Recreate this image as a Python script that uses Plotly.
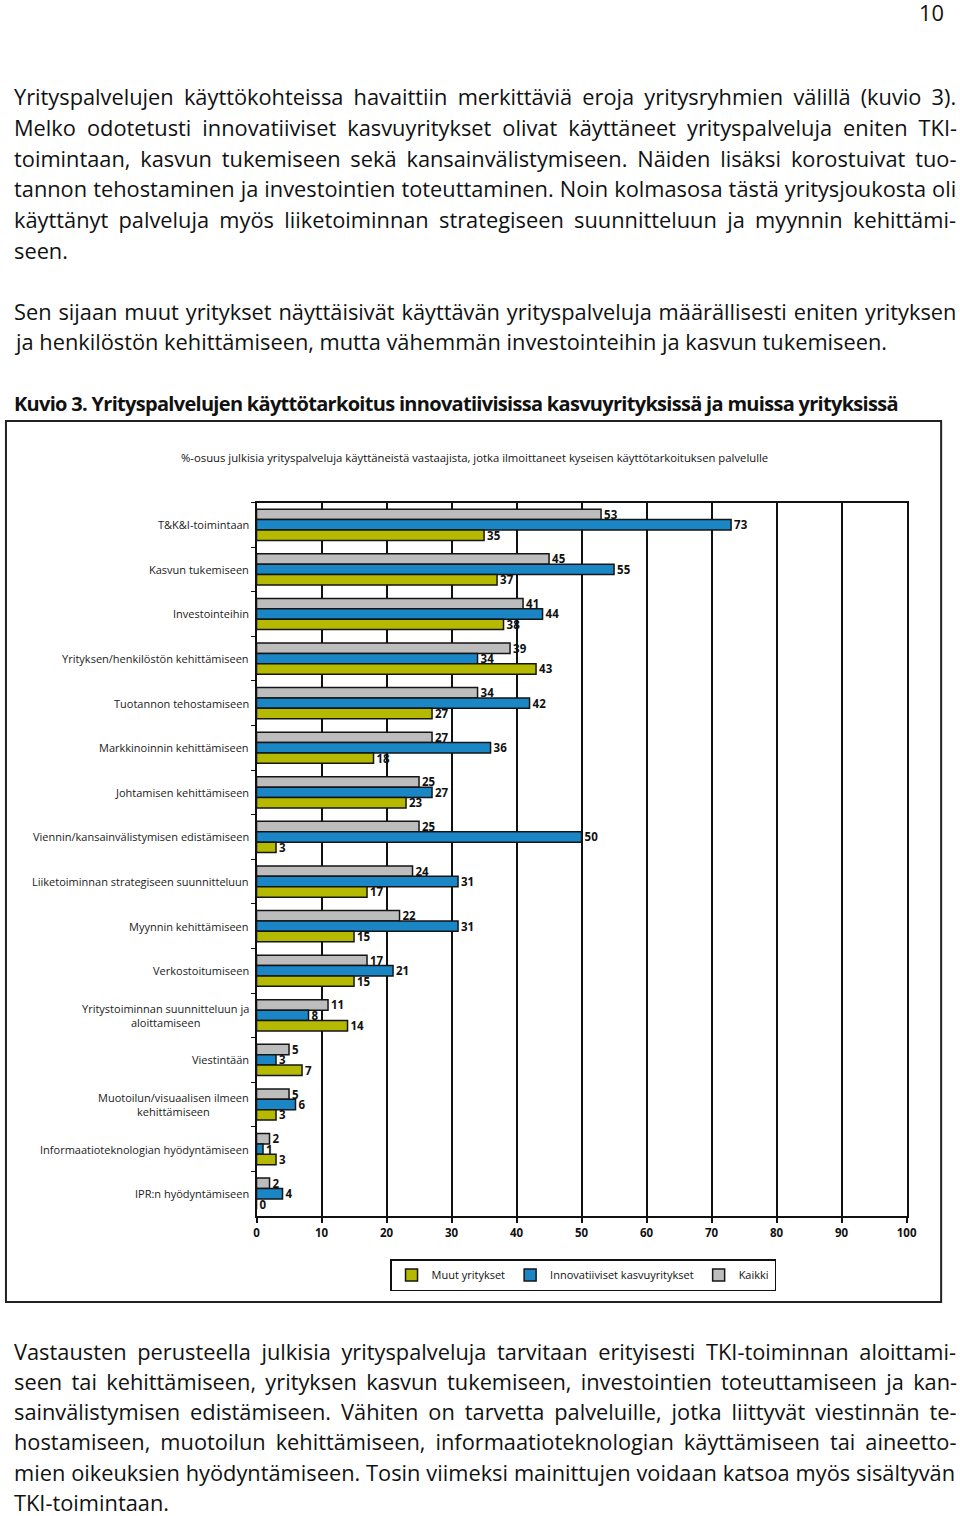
import plotly.graph_objects as go

W, H = 960, 1516

# ---------------- data ----------------
categories = [
    "T&K&I-toimintaan",
    "Kasvun tukemiseen",
    "Investointeihin",
    "Yrityksen/henkilöstön kehittämiseen",
    "Tuotannon tehostamiseen",
    "Markkinoinnin kehittämiseen",
    "Johtamisen kehittämiseen",
    "Viennin/kansainvälistymisen edistämiseen",
    "Liiketoiminnan strategiseen suunnitteluun",
    "Myynnin kehittämiseen",
    "Verkostoitumiseen",
    "Yritystoiminnan suunnitteluun ja<br>aloittamiseen",
    "Viestintään",
    "Muotoilun/visuaalisen ilmeen<br>kehittämiseen",
    "Informaatioteknologian hyödyntämiseen",
    "IPR:n hyödyntämiseen",
]
kaikki = [53, 45, 41, 39, 34, 27, 25, 25, 24, 22, 17, 11, 5, 5, 2, 2]
innovatiiviset = [73, 55, 44, 34, 42, 36, 27, 50, 31, 31, 21, 8, 3, 6, 1, 4]
muut = [35, 37, 38, 43, 27, 18, 23, 3, 17, 15, 15, 14, 7, 3, 3, 0]
series_names = ["Kaikki", "Innovatiiviset kasvuyritykset", "Muut yritykset"]
x_ticks = [0, 10, 20, 30, 40, 50, 60, 70, 80, 90, 100]

page_number = "10"
chart_subtitle = ("%-osuus julkisia yrityspalveluja käyttäneistä vastaajista, jotka "
                  "ilmoittaneet kyseisen käyttötarkoituksen palvelulle")
figure_caption = ("Kuvio 3. Yrityspalvelujen käyttötarkoitus innovatiivisissa "
                  "kasvuyrityksissä ja muissa yrityksissä")
paragraph1 = [
    "Yrityspalvelujen käyttökohteissa havaittiin merkittäviä eroja yritysryhmien välillä (kuvio 3).",
    "Melko odotetusti innovatiiviset kasvuyritykset olivat käyttäneet yrityspalveluja eniten TKI-",
    "toimintaan, kasvun tukemiseen sekä kansainvälistymiseen. Näiden lisäksi korostuivat tuo-",
    "tannon tehostaminen ja investointien toteuttaminen. Noin kolmasosa tästä yritysjoukosta oli",
    "käyttänyt palveluja myös liiketoiminnan strategiseen suunnitteluun ja myynnin kehittämi-",
    "seen.",
]
paragraph2 = [
    "Sen sijaan muut yritykset näyttäisivät käyttävän yrityspalveluja määrällisesti eniten yrityksen",
    "ja henkilöstön kehittämiseen, mutta vähemmän investointeihin ja kasvun tukemiseen.",
]
paragraph3 = [
    "Vastausten perusteella julkisia yrityspalveluja tarvitaan erityisesti TKI-toiminnan aloittami-",
    "seen tai kehittämiseen, yrityksen kasvun tukemiseen, investointien toteuttamiseen ja kan-",
    "sainvälistymisen edistämiseen. Vähiten on tarvetta palveluille, jotka liittyvät viestinnän te-",
    "hostamiseen, muotoilun kehittämiseen, informaatioteknologian käyttämiseen tai aineetto-",
    "mien oikeuksien hyödyntämiseen. Tosin viimeksi mainittujen voidaan katsoa myös sisältyvän",
    "TKI-toimintaan.",
]

# ---------------- styling helpers ----------------
FONT = "Open Sans, Noto Sans, sans-serif"
INK = "#111111"


def px(x):
    return x / W


def py(y):
    return 1 - y / H


# approximate Open Sans Regular advance widths (em)
_w = {" ": 0.26, ".": 0.266, ",": 0.244, "-": 0.322, "(": 0.291, ")": 0.291, "3": 0.572,
      "a": 0.556, "b": 0.613, "c": 0.476, "d": 0.613, "e": 0.561, "f": 0.339, "g": 0.548,
      "h": 0.614, "i": 0.253, "j": 0.253, "k": 0.525, "l": 0.253, "m": 0.930, "n": 0.614,
      "o": 0.604, "p": 0.613, "q": 0.613, "r": 0.408, "s": 0.477, "t": 0.353, "u": 0.614,
      "v": 0.501, "w": 0.778, "x": 0.524, "y": 0.502, "z": 0.477, "ä": 0.556, "ö": 0.604,
      "K": 0.602, "M": 0.856, "N": 0.740, "S": 0.549, "T": 0.560, "V": 0.592, "Y": 0.557,
      "I": 0.303, "J": 0.248}


def em_width(s):
    return sum(_w.get(c, 0.55) for c in s)


# rendered width of the first body line is ~41.6 em in the browser's Open Sans
CAL = 41.6 / em_width(paragraph1[0])

annotations = []
BODY_SIZE = 21.8
LEFT, RIGHT = 9, 955


def add_paragraph(lines, y0, step):
    for i, line in enumerate(lines):
        last = i == len(lines) - 1
        txt = line
        if not last:
            nat = em_width(line) * CAL * BODY_SIZE
            gaps = line.count(" ")
            ws = (RIGHT - LEFT - 3 - nat) / gaps if gaps else 0
            txt = "<span style='word-spacing:%.2fpx'>%s</span>" % (ws, line)
        annotations.append(dict(
            text=txt, x=px(LEFT), y=py(y0 + i * step - 2), xref="paper", yref="paper",
            xanchor="left", yanchor="middle", showarrow=False,
            font=dict(family=FONT, size=BODY_SIZE, color=INK)))


add_paragraph(paragraph1, 99, 30.6)
add_paragraph(paragraph2, 313, 30.6)
add_paragraph(paragraph3, 1353, 30.3)

annotations.append(dict(
    text=page_number, x=px(956), y=py(12), xref="paper", yref="paper",
    xanchor="right", yanchor="middle", showarrow=False,
    font=dict(family=FONT, size=BODY_SIZE, color=INK)))

annotations.append(dict(
    text="<span style='letter-spacing:-0.7px'>%s</span>" % figure_caption,
    x=px(LEFT), y=py(403), xref="paper", yref="paper",
    xanchor="left", yanchor="middle", showarrow=False,
    font=dict(family=FONT, size=20, color=INK, weight="bold")))

annotations.append(dict(
    text=chart_subtitle, x=px(478), y=py(457), xref="paper", yref="paper",
    xanchor="center", yanchor="middle", showarrow=False,
    font=dict(family=FONT, size=11.3, color=INK)))

for cat in categories:
    annotations.append(dict(
        text=cat, x=px(251), y=cat, xref="paper", yref="y",
        xanchor="right", yanchor="middle", align="center", showarrow=False,
        font=dict(family=FONT, size=11, color="#1a1a1a")))

# ---------------- figure ----------------
fig = go.Figure()
colors = ["#BDBDBD", "#1A86C6", "#B5B900"]
for name, vals, color in zip(series_names, [kaikki, innovatiiviset, muut], colors):
    fig.add_trace(go.Bar(
        y=categories, x=vals, orientation="h", name=name,
        marker=dict(color=color, line=dict(color="#151515", width=1.5)),
        text=vals, textposition="outside", constraintext="none", cliponaxis=False,
        textfont=dict(family=FONT, size=11.5, color=INK, weight="bold"),
        hoverinfo="x+name"))

fig.update_layout(
    width=W, height=H, margin=dict(l=0, r=0, t=0, b=0),
    paper_bgcolor="white", plot_bgcolor="white",
    barmode="group", bargap=0.3, bargroupgap=0,
    showlegend=True,
    legend=dict(orientation="h", x=px(588), y=py(1275), xanchor="center",
                yanchor="middle", traceorder="reversed", bordercolor=INK,
                borderwidth=1.5, bgcolor="white", itemwidth=30,
                font=dict(family=FONT, size=11, color=INK)),
    xaxis=dict(domain=[px(257), px(916)], range=[0, 100], tickvals=x_ticks,
               showgrid=True, gridcolor=INK, gridwidth=1.5,
               showline=True, linecolor=INK, linewidth=2, mirror=True,
               ticks="outside", ticklen=5, tickwidth=1.5, tickcolor=INK,
               tickfont=dict(family=FONT, size=11.5, color=INK, weight="bold"),
               zeroline=False),
    yaxis=dict(domain=[py(1216), py(502.5)], autorange="reversed", type="category",
               showline=True, linecolor=INK, linewidth=1.5, mirror=True,
               ticks="outside", tickson="boundaries", ticklen=4, tickcolor=INK,
               showticklabels=False, showgrid=False),
    shapes=[dict(type="rect", xref="paper", yref="paper",
                 x0=px(3), x1=px(951), y0=py(1302), y1=py(421),
                 line=dict(color="#222222", width=2), layer="below")],
    annotations=annotations,
)

fig.write_html(
    "out.html",
    post_script=("document.body.style.margin='0';"
                 "document.body.style.overflow='hidden';"
                 "document.documentElement.style.overflow='hidden';"),
    config={"displayModeBar": False},
)
